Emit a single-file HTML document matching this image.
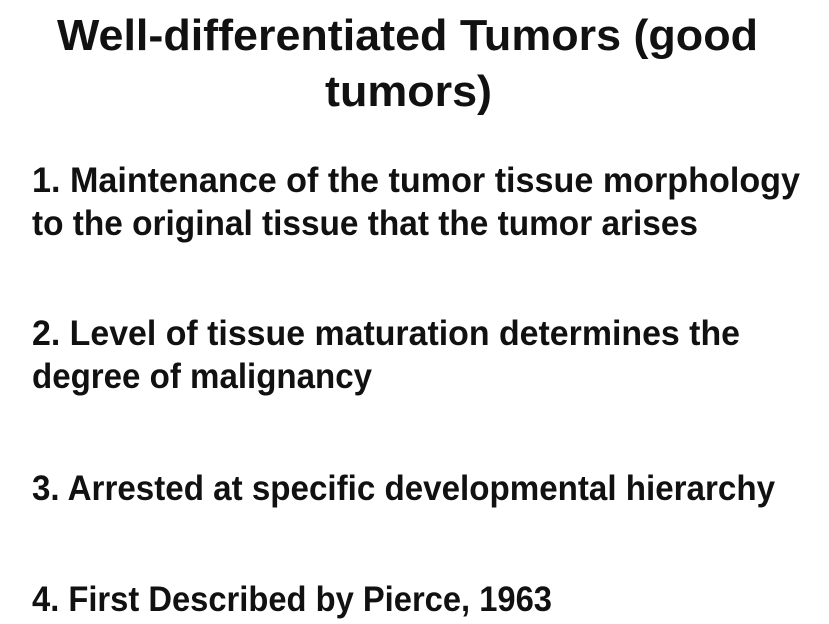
<!DOCTYPE html>
<html>
<head>
<meta charset="utf-8">
<style>
  html,body{margin:0;padding:0;background:#fff;}
  svg{display:block;}
  text{font-family:"Liberation Sans",sans-serif;font-weight:bold;fill:#111;}
</style>
</head>
<body>
<svg width="829" height="624" viewBox="0 0 829 624" xmlns="http://www.w3.org/2000/svg">
  <rect width="829" height="624" fill="#fff"/>
  <g>
    <text x="57" y="50" font-size="44" textLength="701" lengthAdjust="spacingAndGlyphs">Well-differentiated Tumors (good</text>
    <text x="325" y="106" font-size="44" textLength="167" lengthAdjust="spacingAndGlyphs">tumors)</text>
  </g>
  <g>
    <text x="32" y="192" font-size="35" textLength="768" lengthAdjust="spacingAndGlyphs">1.  Maintenance of the tumor tissue morphology</text>
    <text x="32" y="235" font-size="35" textLength="666" lengthAdjust="spacingAndGlyphs">to the original tissue that the tumor arises</text>
  </g>
  <g>
    <text x="32" y="345" font-size="35" textLength="708" lengthAdjust="spacingAndGlyphs">2.  Level of tissue maturation determines the</text>
    <text x="32" y="388" font-size="35" textLength="340" lengthAdjust="spacingAndGlyphs">degree of malignancy</text>
  </g>
  <g>
    <text x="32" y="500" font-size="35" textLength="743" lengthAdjust="spacingAndGlyphs">3. Arrested at specific developmental hierarchy</text>
  </g>
  <g>
    <text x="32" y="611" font-size="35" textLength="520" lengthAdjust="spacingAndGlyphs">4. First Described by Pierce, 1963</text>
  </g>
</svg>
</body>
</html>
